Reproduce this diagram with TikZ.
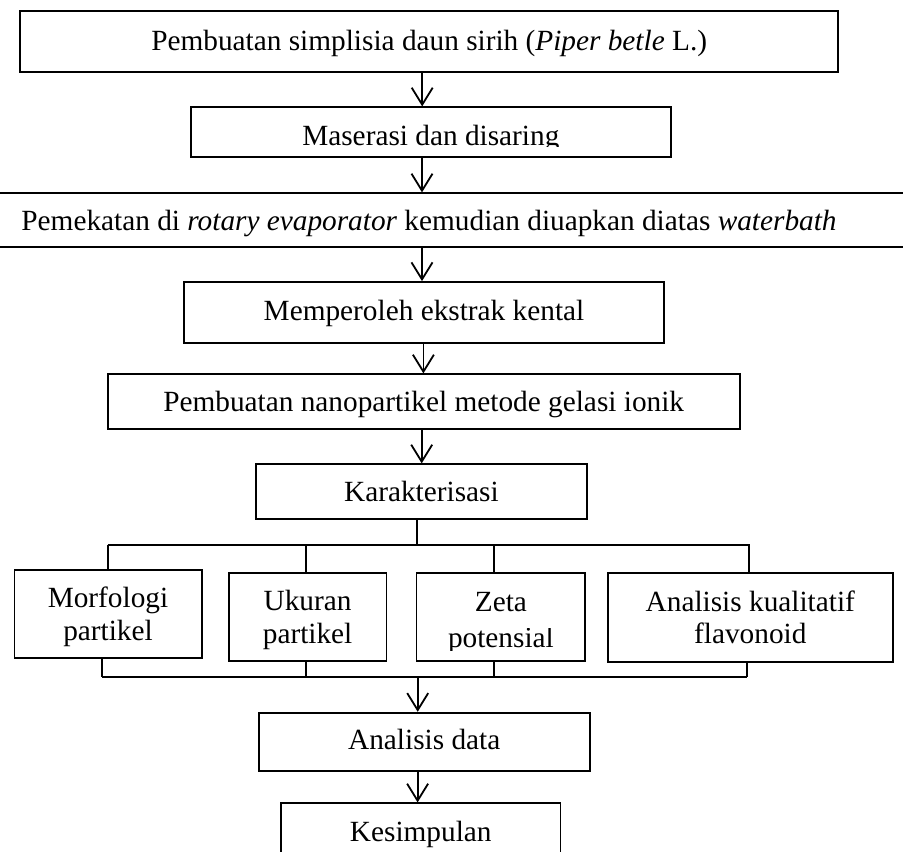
\documentclass[tikz,border=0pt]{standalone}
\usepackage{fontspec}
\setmainfont{Liberation Serif}
\usetikzlibrary{arrows.meta}
\begin{document}
\begin{tikzpicture}[x=1pt,y=-1pt,
  box/.style={draw=black, line width=1.8pt, rectangle, inner sep=0pt, fill=none},
  txt/.style={anchor=base, inner sep=0pt, font=\fontsize{29.3}{32.5}\selectfont},
  ln/.style={line width=1.8pt},
  arr/.style={line width=1.8pt, -{Straight Barb[length=17pt,width=21pt,line width=1.8pt]}}]
\useasboundingbox (0,0) rectangle (903,852);
\clip (0,0) rectangle (903,852);
\fill[white] (0,0) rectangle (903,852);
% boxes
\node[box, minimum width=818pt, minimum height=61.6pt] (b1) at (429.2,41.5) {};
\node[box, minimum width=480.3pt, minimum height=49.4pt] (b2) at (430.85,132) {};
\node[box, minimum width=943pt, minimum height=53.4pt] (b3) at (451.5,220) {};
\node[box, minimum width=480pt, minimum height=61.3pt] (b4) at (424,312.65) {};
\node[box, minimum width=631.9pt, minimum height=55pt] (b5) at (423.65,401.8) {};
\node[box, minimum width=331.2pt, minimum height=55pt] (b6) at (421.4,491.8) {};
\node[box, minimum width=187.2pt, minimum height=88.3pt] (b7) at (108,614.15) {};
\node[box, minimum width=157.8pt, minimum height=87.4pt] (b8) at (307.6,617) {};
\node[box, minimum width=168.8pt, minimum height=87.7pt] (b9) at (500.9,617.15) {};
\node[box, minimum width=285.2pt, minimum height=88.4pt] (b10) at (750.3,617.5) {};
\node[box, minimum width=331.3pt, minimum height=58pt] (b11) at (424.25,741.7) {};
\node[box, minimum width=279.5pt, minimum height=66.7pt] (b12) at (420.75,836.65) {};
% texts
\node[txt] (t1) at (429.2,50) {Pembuatan simplisia daun sirih (\textit{Piper betle} L.)};
\begin{scope}
\clip (190,107) rectangle (671,146.5);
\node[txt] (t2) at (430.85,145) {Maserasi dan disaring};
\end{scope}
\node[txt] (t3) at (429,230) {Pemekatan di \textit{rotary evaporator} kemudian diuapkan diatas \textit{waterbath}};
\node[txt] (t4) at (424,320) {Memperoleh ekstrak kental};
\node[txt] (t5) at (423.65,411) {Pembuatan nanopartikel metode gelasi ionik};
\node[txt] (t6) at (421.4,501.7) {Karakterisasi};
\node[txt] (t7a) at (108,607.7) {Morfologi};
\node[txt] (t7b) at (108,640) {partikel};
\node[txt] (t8a) at (307.6,610.7) {Ukuran};
\node[txt] (t8b) at (307.6,643.3) {partikel};
\node[txt] (t9a) at (500.9,611) {Zeta};
\begin{scope}
\clip (417,628.5) rectangle (585,650);
\node[txt] (t9b) at (500.9,647) {potensial};
\end{scope}
\node[txt] (t10a) at (750.3,611.7) {Analisis kualitatif};
\node[txt] (t10b) at (750.3,643.3) {flavonoid};
\node[txt] (t11) at (424.25,749.3) {Analisis data};
\node[txt] (t12) at (420.75,841) {Kesimpulan};
% coordinates
\coordinate (a1) at (422.2,0);
\coordinate (a2) at (422,0);
\coordinate (a3) at (422,0);
\coordinate (a4) at (423.4,0);
\coordinate (a5) at (421.7,0);
\coordinate (k) at (417,545);
\coordinate (tl) at (107.7,545);
\coordinate (tr) at (749.5,545);
\coordinate (x8) at (305.9,545);
\coordinate (x9) at (494.2,545);
\coordinate (x10) at (748.8,545);
\coordinate (bl) at (102,676.7);
\coordinate (br) at (747,676.7);
\coordinate (y8) at (305.9,676.7);
\coordinate (y9) at (494.2,676.7);
\coordinate (m) at (417.7,676.7);
\coordinate (a6) at (417.6,0);
% arrows
\draw[arr] (b1.south -| a1) -- (b2.north -| a1);
\draw[arr] (b2.south -| a2) -- (b3.north -| a2);
\draw[arr] (b3.south -| a3) -- (b4.north -| a3);
\draw[arr] (b4.south -| a4) -- (b5.north -| a4);
\draw[arr] (b5.south -| a5) -- (b6.north -| a5);
% tree top
\draw[ln] (b6.south -| k) -- (k);
\draw[ln] (tl) -- (tr);
\draw[ln] (tl) -- (tl |- b7.north);
\draw[ln] (x8) -- (x8 |- b8.north);
\draw[ln] (x9) -- (x9 |- b9.north);
\draw[ln] (x10) -- (x10 |- b10.north);
% tree bottom
\draw[ln] (bl |- b7.south) -- (bl);
\draw[ln] (y8 |- b8.south) -- (y8);
\draw[ln] (y9 |- b9.south) -- (y9);
\draw[ln] (br |- b10.south) -- (br);
\draw[ln] (bl) -- (br);
\draw[arr] (m) -- (m |- b11.north);
\draw[arr] (b11.south -| a6) -- (b12.north -| a6);
\end{tikzpicture}
\end{document}
